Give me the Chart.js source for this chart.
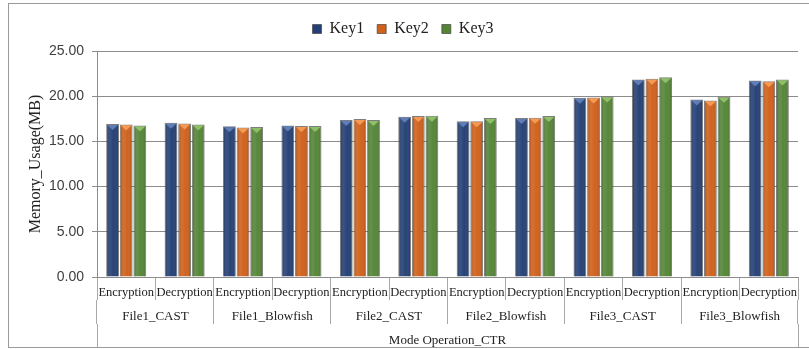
<!DOCTYPE html>
<html>
<head>
<meta charset="utf-8">
<script src="https://cdn.jsdelivr.net/npm/chart.js@4.4.1/dist/chart.umd.min.js"></script>
<style>
  html, body { margin: 0; padding: 0; background: #fff; }
  #wrap { position: relative; width: 809px; height: 349px; }
</style>
</head>
<body>
<div id="wrap"><canvas id="mem_ctr"></canvas></div>
<script>
// memory usage (MB) per operation, mode CTR
var ops = ["Encryption", "Decryption", "Encryption", "Decryption", "Encryption", "Decryption",
           "Encryption", "Decryption", "Encryption", "Decryption", "Encryption", "Decryption"];
var files = ["File1_CAST", "File1_Blowfish", "File2_CAST", "File2_Blowfish", "File3_CAST", "File3_Blowfish"];
var mode = ["Mode Operation_CTR"];
var key1 = [16.93, 17.07, 16.67, 16.77, 17.37, 17.73, 17.22, 17.59, 19.82, 21.84, 19.64, 21.73];
var key2 = [16.88, 16.99, 16.55, 16.70, 17.48, 17.80, 17.22, 17.62, 19.86, 21.92, 19.53, 21.66];
var key3 = [16.77, 16.88, 16.59, 16.70, 17.37, 17.84, 17.59, 17.80, 19.97, 22.10, 19.93, 21.84];
var yTicks = [0, 5, 10, 15, 20, 25];

var serif = "'Liberation Serif', 'Times New Roman', serif";
var gridGrey = "#8c8c8c";

// fake 3D look: side shading and a light bevel on top of each bar
var barShade = {
  id: "barShade",
  afterDatasetsDraw: function (chart) {
    var c = chart.ctx;
    c.save();
    chart.data.datasets.forEach(function (ds, i) {
      chart.getDatasetMeta(i).data.forEach(function (bar) {
        var p = bar.getProps(["x", "y", "base", "width"], true);
        var l = p.x - p.width / 2, r = p.x + p.width / 2;
        var g = c.createLinearGradient(l, 0, r, 0);
        g.addColorStop(0, "rgba(0,0,0,0.28)");
        g.addColorStop(0.3, "rgba(255,255,255,0.10)");
        g.addColorStop(0.6, "rgba(255,255,255,0.02)");
        g.addColorStop(1, "rgba(0,0,0,0.22)");
        c.fillStyle = g;
        c.fillRect(l + 1, p.y + 1, p.width - 2, p.base - p.y - 1);
        c.fillStyle = ds.bevel;
        c.beginPath();
        c.moveTo(l + 1, p.y + 1);
        c.lineTo(r - 1, p.y + 1);
        c.lineTo(p.x, p.y + 6);
        c.closePath();
        c.fill();
      });
    });
    c.restore();
  }
};

// outer frame
var frame = {
  id: "frame",
  beforeDraw: function (chart) {
    var c = chart.ctx;
    c.save();
    c.strokeStyle = "#9a9a9a";
    c.lineWidth = 1;
    c.strokeRect(8.5, 3.5, 810, 344);
    c.restore();
  }
};

new Chart(document.getElementById("mem_ctr"), {
  type: "bar",
  data: {
    labels: ops,
    datasets: [
      { label: "Key1", data: key1, backgroundColor: "#233f74", borderColor: "rgba(70,70,70,0.7)", borderWidth: 1, bevel: "#5f7db6" },
      { label: "Key2", data: key2, backgroundColor: "#d0601a", borderColor: "rgba(70,70,70,0.7)", borderWidth: 1, bevel: "#f49a52" },
      { label: "Key3", data: key3, backgroundColor: "#548536", borderColor: "rgba(70,70,70,0.7)", borderWidth: 1, bevel: "#8fbf66" }
    ]
  },
  options: {
    responsive: true,
    maintainAspectRatio: false,
    animation: false,
    layout: { padding: { left: 8, right: 11, top: 8, bottom: 2 } },
    datasets: { bar: { categoryPercentage: 0.7, barPercentage: 0.94 } },
    plugins: {
      tooltip: { enabled: false },
      legend: {
        position: "top",
        labels: { boxWidth: 9, boxHeight: 9, padding: 13, color: "#222", font: { family: serif, size: 16 } }
      },
      // empty title used as a small gap between legend and plot
      title: { display: true, text: "", weight: 500, padding: 0, font: { size: 4, lineHeight: 1 } }
    },
    scales: {
      y: {
        min: 0,
        max: 25,
        afterBuildTicks: function (s) { s.ticks = yTicks.map(function (v) { return { value: v }; }); },
        afterFit: function (s) { s.width = 89; },
        grid: { color: gridGrey, tickLength: 5 },
        border: { color: gridGrey },
        ticks: {
          padding: 8,
          color: "#404040",
          font: { family: "'Liberation Sans', Arial, sans-serif", size: 14 },
          callback: function (v) { return v.toFixed(2); }
        },
        title: { display: true, text: "Memory_Usage(MB)", color: "#222", font: { family: serif, size: 16 }, padding: { top: 18, bottom: 0 } }
      },
      x: {
        position: "bottom",
        afterFit: function (s) { s.height = 23; },
        grid: { offset: true, drawOnChartArea: false, tickLength: 23, color: "#a8a8a8" },
        border: { color: gridGrey },
        ticks: { autoSkip: false, maxRotation: 0, padding: -15, color: "#222", font: { family: serif, size: 12.5 } }
      },
      x2: {
        type: "category",
        position: "bottom",
        labels: files,
        offset: true,
        afterFit: function (s) { s.height = 24; },
        grid: { offset: true, drawOnChartArea: false, tickLength: 24, color: "#a8a8a8" },
        border: { display: false },
        ticks: { autoSkip: false, maxRotation: 0, padding: -15, color: "#222", font: { family: serif, size: 13 } }
      },
      x3: {
        type: "category",
        position: "bottom",
        labels: mode,
        offset: true,
        afterFit: function (s) { s.height = 23; },
        grid: { offset: true, drawOnChartArea: false, tickLength: 23, color: "#a8a8a8" },
        border: { display: false },
        ticks: { autoSkip: false, maxRotation: 0, padding: -14, color: "#222", font: { family: serif, size: 13 } }
      }
    }
  },
  plugins: [frame, barShade]
});
</script>
</body>
</html>
